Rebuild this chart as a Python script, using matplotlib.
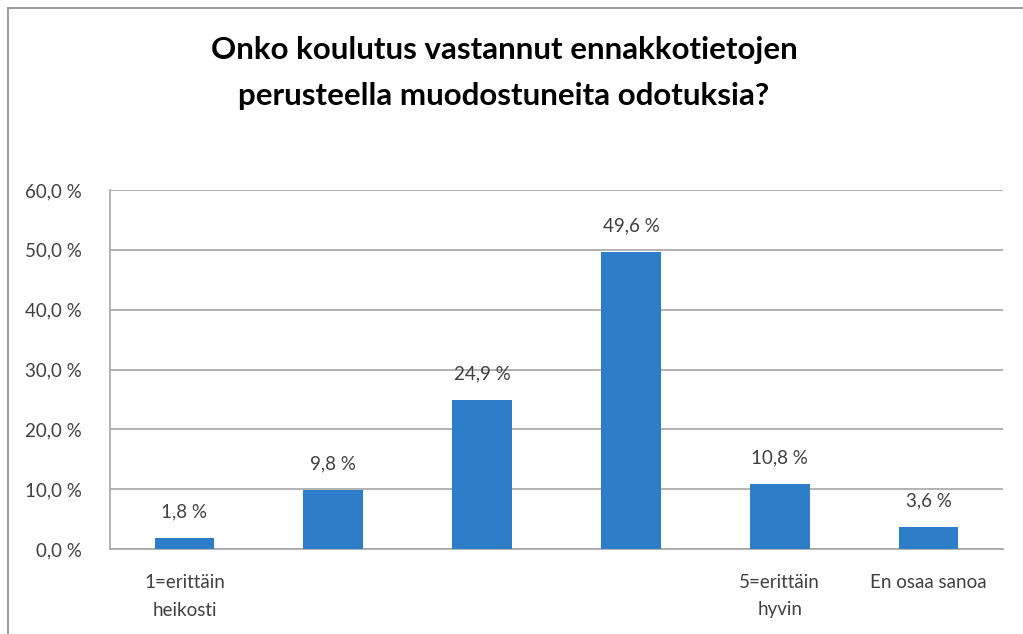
import matplotlib
matplotlib.use("Agg")
import matplotlib.pyplot as plt
from matplotlib.lines import Line2D

# data
categories = ["1=erittäin\nheikosti", "", "", "", "5=erittäin\nhyvin", "En osaa sanoa"]
values = [1.8, 9.8, 24.9, 49.6, 10.8, 3.6]
y_ticks = [0, 10, 20, 30, 40, 50, 60]
title = "Onko koulutus vastannut ennakkotietojen\nperusteella muodostuneita odotuksia?"

BAR_COLOR = "#2E7DC8"
GRID_COLOR = "#A6A6A6"
TEXT_COLOR = "#404040"

plt.rcParams["font.family"] = ["Lato", "DejaVu Sans"]


def pct(v):
    return ("%.1f %%" % v).replace(".", ",")


fig = plt.figure(figsize=(10.23, 6.34), dpi=100)
ax = fig.add_axes([110 / 1023, 85 / 634, 893 / 1023, 359 / 634])

x = list(range(len(values)))
bars = ax.bar(x, values, width=0.40, color=BAR_COLOR, zorder=3)

for b, v in zip(bars, values):
    ax.annotate(pct(v), (b.get_x() + b.get_width() / 2, v),
                xytext=(0, 13), textcoords="offset points",
                ha="center", va="bottom", fontsize=13.5, color=TEXT_COLOR)

ax.set_xlim(-0.5, len(values) - 0.5)
ax.set_ylim(0, 60)
ax.set_yticks(y_ticks)
ax.set_yticklabels([pct(t) for t in y_ticks], fontsize=13.5, color=TEXT_COLOR)
ax.set_xticks(x)
ax.set_xticklabels(categories, fontsize=13.5, color=TEXT_COLOR, linespacing=1.75)
ax.tick_params(axis="both", length=0)
ax.tick_params(axis="x", pad=18)
ax.tick_params(axis="y", pad=20)

ax.yaxis.grid(True, color=GRID_COLOR, linewidth=1.2, zorder=0)
for s in ["top", "right"]:
    ax.spines[s].set_visible(False)
for s in ["left", "bottom"]:
    ax.spines[s].set_color(GRID_COLOR)
    ax.spines[s].set_linewidth(1.2)

fig.text(504 / 1023, 1 - 73 / 634, title, ha="center", va="center",
         fontsize=22.5, fontweight="bold", color="black", linespacing=1.75)

# outer chart border (only left and top visible in the crop)
fig.add_artist(Line2D([8 / 1023, 8 / 1023], [0, 1 - 8 / 634], transform=fig.transFigure,
                      color="#A0A0A0", linewidth=1.5))
fig.add_artist(Line2D([8 / 1023, 1], [1 - 8 / 634, 1 - 8 / 634], transform=fig.transFigure,
                      color="#A0A0A0", linewidth=1.5))

fig.savefig("out.png", dpi=100)
